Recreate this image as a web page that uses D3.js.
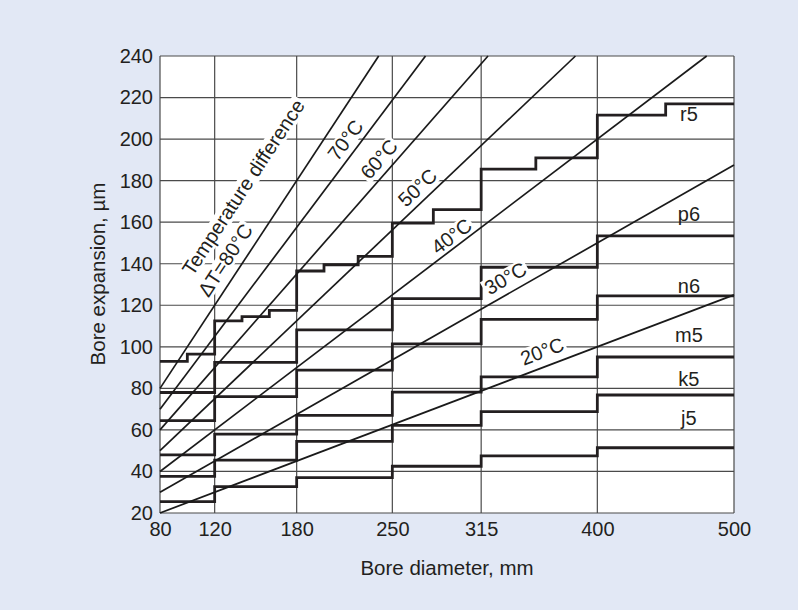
<!DOCTYPE html>
<html>
<head>
<meta charset="utf-8">
<script src="https://cdn.jsdelivr.net/npm/d3@7"></script>
<style>
  html, body { margin: 0; padding: 0; background: #e2e8f5; }
  svg { display: block; }
  text { font-family: "Liberation Sans", Arial, Helvetica, sans-serif; fill: #231f20; }
</style>
</head>
<body>
<svg id="chart" width="798" height="610"></svg>
<script>
// ---- data ----
const xTicks = [80, 120, 180, 250, 315, 400, 500];
const yTicks = [20, 40, 60, 80, 100, 120, 140, 160, 180, 200, 220, 240];
const tempDiffs = [20, 30, 40, 50, 60, 70, 80];
const expansionPerMmDeg = 0.0125; // µm per mm per °C

const fineBounds = [80, 100, 120, 140, 160, 180, 200, 225, 250, 280, 315, 355, 400, 450, 500];
const r5 = [93, 96.5, 112.5, 114.5, 117.5, 136.5, 139.5, 143.5, 159.5, 166, 185.5, 191, 211.5, 217];

const coarseBounds = [80, 120, 180, 250, 315, 400, 500];
const p6 = [78, 92.5, 108.2, 123.2, 138.3, 153.4];
const n6 = [64.5, 76, 88.8, 101.4, 113.2, 124.5];
const m5 = [48, 58, 67, 78.2, 85.5, 95.1];
const k5 = [37.6, 45.5, 54.5, 62.2, 68.8, 76.8];
const j5 = [25.5, 32.7, 37, 42.5, 47.5, 51.4];

const fitNames = ["r5", "p6", "n6", "m5", "k5", "j5"];
const fitLabelPos = [[467, 208.9], [467, 160.8], [467, 125.8], [467, 102.5], [467, 81.1], [467, 62.4]];

const tempLabels = ["70°C", "60°C", "50°C", "40°C", "30°C", "20°C"];
const tempLabelTemps = [70, 60, 50, 40, 30, 20];
const tempLabelPos = [[215.5, 199.6], [240.1, 190.4], [268.3, 176.7], [293.2, 153.3], [332.7, 133.1], [359.5, 98]];
const titleLines = ["Temperature difference", "ΔT=80°C"];
const titlePos = [[140.8, 176.9], [127.6, 141.8]];

const xTitle = "Bore diameter, mm";
const yTitle = "Bore expansion, µm";

// ---- chart ----
const svg = d3.select("#chart");
const x = d3.scaleLinear().domain([80, 500]).range([160, 734]);
const y = d3.scaleLinear().domain([20, 240]).range([513, 56]);

svg.append("rect").attr("x", x(80)).attr("y", y(240))
  .attr("width", x(500) - x(80)).attr("height", y(20) - y(240)).attr("fill", "#fff");

const gridL = svg.append("g");
const stepL = svg.append("g");
const knockL = svg.append("g");
const diagL = svg.append("g");
const textL = svg.append("g");

// grid
gridL.selectAll("line.h").data(yTicks).join("line")
  .attr("x1", x(80)).attr("x2", x(500))
  .attr("y1", d => y(d)).attr("y2", d => y(d))
  .attr("stroke", "#4a4a4a").attr("stroke-width", 1.2);
gridL.selectAll("line.v").data(xTicks).join("line")
  .attr("y1", y(20)).attr("y2", y(240))
  .attr("x1", d => x(d)).attr("x2", d => x(d))
  .attr("stroke", "#4a4a4a").attr("stroke-width", 1.2);

// axes labels
const yAxis = d3.axisLeft(y).tickValues(yTicks).tickSize(0).tickPadding(7);
const gy = svg.append("g").attr("transform", `translate(${x(80)},0)`).call(yAxis);
gy.select(".domain").remove();
gy.selectAll("text").style("font-size", "20px").attr("fill", "#231f20")
  .attr("font-family", "Liberation Sans, Arial, sans-serif");

const xAxis = d3.axisBottom(x).tickValues(xTicks).tickSize(0).tickPadding(9);
const gx = svg.append("g").attr("transform", `translate(0,${y(20)})`).call(xAxis);
gx.select(".domain").remove();
gx.selectAll("text").style("font-size", "20px").attr("fill", "#231f20")
  .attr("font-family", "Liberation Sans, Arial, sans-serif");

svg.append("text").attr("x", (x(80) + x(500)) / 2).attr("y", 575)
  .attr("text-anchor", "middle").style("font-size", "20.5px").text(xTitle);
svg.append("text").attr("transform", "translate(105,274) rotate(-90)")
  .attr("text-anchor", "middle").style("font-size", "20.5px").text(yTitle);

// step lines
function stepPoints(bounds, vals) {
  const pts = vals.map((v, i) => [bounds[i], v]);
  pts.push([bounds[bounds.length - 1], vals[vals.length - 1]]);
  return pts;
}
const stepLine = d3.line().x(d => x(d[0])).y(d => y(d[1])).curve(d3.curveStepAfter);
const steps = [stepPoints(fineBounds, r5), stepPoints(coarseBounds, p6), stepPoints(coarseBounds, n6),
  stepPoints(coarseBounds, m5), stepPoints(coarseBounds, k5), stepPoints(coarseBounds, j5)];
stepL.selectAll("path").data(steps).join("path")
  .attr("d", stepLine).attr("fill", "none").attr("stroke", "#231f20")
  .attr("stroke-width", 2.8).attr("stroke-linejoin", "miter");

// fit labels
textL.selectAll("text.fit").data(fitNames).join("text")
  .attr("x", (d, i) => x(fitLabelPos[i][0])).attr("y", (d, i) => y(fitLabelPos[i][1]))
  .attr("text-anchor", "middle").style("font-size", "20px").text(d => d);

// diagonal temperature lines
const diagLine = d3.line().x(d => x(d[0])).y(d => y(d[1]));
const diagData = tempDiffs.map(t => {
  const k = expansionPerMmDeg * t;
  const dEnd = Math.min(500, 240 / k);
  return [[80, k * 80], [dEnd, k * dEnd]];
});
diagL.selectAll("path").data(diagData).join("path")
  .attr("d", diagLine).attr("fill", "none").attr("stroke", "#1a1a1a").attr("stroke-width", 1.7);

function angleFor(t) {
  const k = expansionPerMmDeg * t;
  const dx = x(200) - x(100), dy = y(k * 200) - y(k * 100);
  return Math.atan2(dy, dx) * 180 / Math.PI;
}

function addRotLabel(str, pos, temp) {
  const cx = x(pos[0]), cy = y(pos[1]), a = angleFor(temp);
  const tg = textL.append("g").attr("transform", `translate(${cx},${cy}) rotate(${a})`);
  const t = tg.append("text").attr("text-anchor", "middle").attr("dy", "0.36em")
    .style("font-size", "20px").text(str);
  const bb = t.node().getBBox();
  knockL.append("g").attr("transform", `translate(${cx},${cy}) rotate(${a})`)
    .append("rect").attr("x", bb.x - 2).attr("y", bb.y + 2)
    .attr("width", bb.width + 4).attr("height", bb.height - 3).attr("fill", "#fff");
}
tempLabels.forEach((s, i) => addRotLabel(s, tempLabelPos[i], tempLabelTemps[i]));
titleLines.forEach((s, i) => addRotLabel(s, titlePos[i], 80));
</script>
</body>
</html>
